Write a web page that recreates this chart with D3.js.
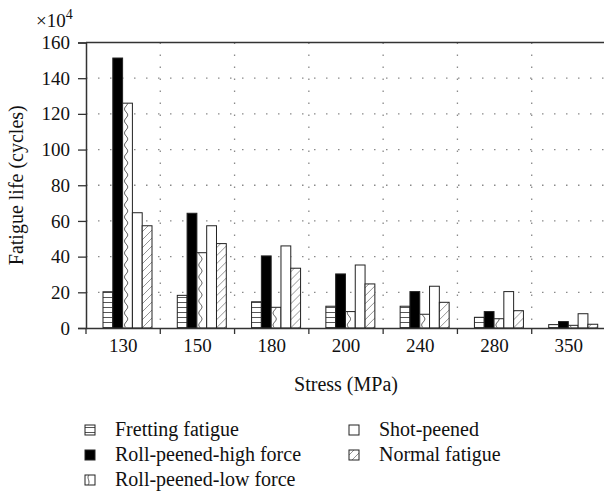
<!DOCTYPE html>
<html>
<head>
<meta charset="utf-8">
<script src="https://cdn.jsdelivr.net/npm/d3@7"></script>
<style>
  body { margin: 0; background: #fff; }
  svg text {
    font-family: "Liberation Serif", "Times New Roman", Tinos, "Noto Serif", "DejaVu Serif", FreeSerif, serif !important;
    fill: #111;
  }
</style>
</head>
<body>
<script>
const width = 604;
const height = 493;

const categories = ["130", "150", "180", "200", "240", "280", "350"];
const seriesNames = [
  "Fretting fatigue",
  "Roll-peened-high force",
  "Roll-peened-low force",
  "Shot-peened",
  "Normal fatigue"
];
const fretting = [20.3, 18.3, 14.7, 12.2, 12.2, 6.0, 1.9];
const rollHigh = [151.3, 64.3, 40.4, 30.3, 20.4, 9.2, 3.6];
const rollLow = [126, 42.2, 11.6, 9.2, 7.7, 5.2, 1.5];
const shotPeened = [64.6, 57.3, 46, 35.3, 23.4, 20.4, 8.0];
const normalFatigue = [57.3, 47.3, 33.5, 24.7, 14.4, 9.7, 2.1];
const yTicks = [0, 20, 40, 60, 80, 100, 120, 140, 160];

const seriesValues = [fretting, rollHigh, rollLow, shotPeened, normalFatigue];

const svg = d3
  .select("body")
  .append("svg")
  .attr("width", width)
  .attr("height", height);

const defs = svg.append("defs");

// horizontal lines
const pH = defs
  .append("pattern")
  .attr("id", "pat-h")
  .attr("patternUnits", "userSpaceOnUse")
  .attr("width", 6)
  .attr("height", 5);
pH.append("rect").attr("width", 6).attr("height", 5).attr("fill", "#fff");
pH.append("line")
  .attr("x1", 0).attr("x2", 6).attr("y1", 2.5).attr("y2", 2.5)
  .attr("stroke", "#444").attr("stroke-width", 0.9);

// diagonal hatch
const pD = defs
  .append("pattern")
  .attr("id", "pat-d")
  .attr("patternUnits", "userSpaceOnUse")
  .attr("width", 8)
  .attr("height", 8);
pD.append("rect").attr("width", 8).attr("height", 8).attr("fill", "#fff");
pD.append("path")
  .attr("d", "M-2,2 L2,-2 M0,8 L8,0 M6,10 L10,6")
  .attr("stroke", "#888").attr("stroke-width", 0.9);

const fills = ["url(#pat-h)", "#000", "#fff", "#fff", "url(#pat-d)"];

const x = d3.scaleBand().domain(categories).range([86, 606]).padding(0);
const xInner = d3.scaleBand().domain(seriesNames).range([17, 66]).padding(0);
const y = d3.scaleLinear().domain([0, 160]).range([328, 42.5]);

// grid
const grid = svg.append("g").attr("stroke", "#8a8a8a").attr("stroke-width", 1.3)
  .attr("stroke-dasharray", "1.5,10.5");
grid.selectAll("line.h")
  .data(yTicks.filter((d) => d > 0 && d < 160))
  .enter()
  .append("line")
  .attr("x1", 86).attr("x2", 606)
  .attr("y1", (d) => y(d)).attr("y2", (d) => y(d));
grid.selectAll("line.v")
  .data(categories.slice(1))
  .enter()
  .append("line")
  .attr("x1", (d) => x(d)).attr("x2", (d) => x(d))
  .attr("y1", y(160)).attr("y2", y(0));

// bars
const groups = svg
  .selectAll("g.grp")
  .data(categories)
  .enter()
  .append("g")
  .attr("transform", (d) => `translate(${x(d)},0)`);

seriesNames.forEach((name, si) => {
  groups
    .append("rect")
    .attr("x", xInner(name))
    .attr("y", (d, i) => y(seriesValues[si][i]))
    .attr("width", xInner.bandwidth())
    .attr("height", (d, i) => y(0) - y(seriesValues[si][i]))
    .attr("fill", fills[si])
    .attr("stroke", "#222")
    .attr("stroke-width", 1);
});

// wavy line inside roll-peened-low force bars
const wave = (x0, y0, y1) => {
  const pts = [];
  for (let yy = y1; yy <= y0; yy += 1) {
    pts.push([x0 + 1.6 * Math.sin(((yy - y0) / 12) * 2 * Math.PI), yy]);
  }
  return d3.line()(pts);
};
groups.each(function (d, i) {
  const bx = xInner(seriesNames[2]);
  const top = y(rollLow[i]);
  const clipId = "clip-low-" + i;
  defs.append("clipPath").attr("id", clipId)
    .append("rect")
    .attr("x", x(d) + bx).attr("y", top)
    .attr("width", xInner.bandwidth()).attr("height", y(0) - top);
  svg.append("path")
    .attr("d", wave(x(d) + bx + 3.5, y(0), top))
    .attr("fill", "none")
    .attr("stroke", "#444")
    .attr("stroke-width", 0.9)
    .attr("clip-path", `url(#${clipId})`);
});

// axes
const yAxis = svg
  .append("g")
  .attr("transform", "translate(86,0)")
  .call(d3.axisLeft(y).tickValues(yTicks).tickSize(8).tickPadding(8));
yAxis.attr("font-family", null).attr("font-size", null);
yAxis.select(".domain").attr("stroke", "#333").attr("stroke-width", 1.5);
yAxis.selectAll(".tick line").attr("stroke", "#333").attr("stroke-width", 1.3);
yAxis.selectAll("text").style("font-size", "19px").attr("fill", "#111");

const xAxis = svg
  .append("g")
  .attr("transform", `translate(0,${y(0)})`)
  .call(d3.axisBottom(x).tickSize(0).tickPadding(11));
xAxis.attr("font-family", null).attr("font-size", null);
xAxis.select(".domain").attr("stroke", "#333").attr("stroke-width", 1.5);
xAxis.selectAll("text").style("font-size", "19px").attr("fill", "#111");

svg.selectAll("line.xb")
  .data(categories.concat(["end"]))
  .enter()
  .append("line")
  .attr("x1", (d) => (d === "end" ? 606 : x(d)))
  .attr("x2", (d) => (d === "end" ? 606 : x(d)))
  .attr("y1", y(0)).attr("y2", y(0) + 6)
  .attr("stroke", "#333").attr("stroke-width", 1.3);

// top frame
svg.append("line")
  .attr("x1", 86).attr("x2", 606)
  .attr("y1", y(160)).attr("y2", y(160))
  .attr("stroke", "#333").attr("stroke-width", 1.5);

// multiplier
const mult = svg.append("text").attr("x", 36).attr("y", 27).style("font-size", "19px");
mult.append("tspan").text("×10");
mult.append("tspan").attr("dy", -8).style("font-size", "14px").text("4");

// axis titles
svg.append("text")
  .attr("transform", `translate(23,${(y(0) + y(160)) / 2}) rotate(-90)`)
  .attr("text-anchor", "middle")
  .style("font-size", "20px")
  .text("Fatigue life (cycles)");

svg.append("text")
  .attr("x", 346).attr("y", 391)
  .attr("text-anchor", "middle")
  .style("font-size", "20px")
  .text("Stress (MPa)");

// legend
const legendPos = [
  [85, 430], [85, 455], [85, 480], [349, 430], [349, 455]
];
const legend = svg
  .selectAll("g.leg")
  .data(seriesNames)
  .enter()
  .append("g")
  .attr("transform", (d, i) => `translate(${legendPos[i][0]},${legendPos[i][1]})`);
legend.append("rect")
  .attr("x", 0).attr("y", -5).attr("width", 10).attr("height", 10)
  .attr("fill", (d, i) => fills[i])
  .attr("stroke", "#222").attr("stroke-width", 1);
legend.filter((d, i) => i === 2)
  .append("path")
  .attr("d", "M4,-5 C1,-2 6,1 3,5")
  .attr("fill", "none").attr("stroke", "#444").attr("stroke-width", 0.9);
legend.append("text")
  .attr("x", 30).attr("y", 6)
  .style("font-size", "20px")
  .text((d) => d);
</script>
</body>
</html>
